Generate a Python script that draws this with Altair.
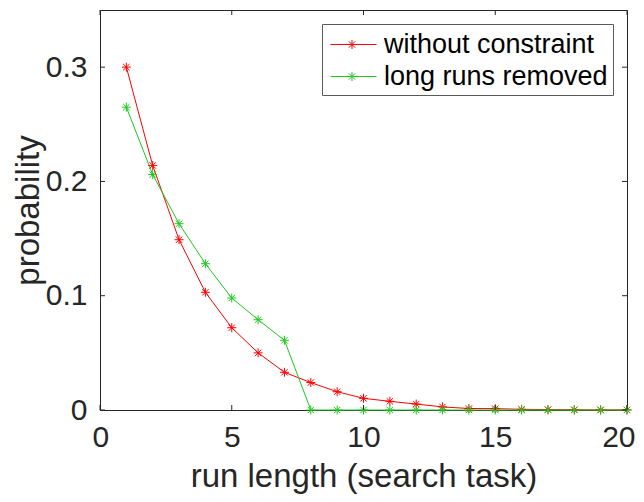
import altair as alt
import pandas as pd

# ---- data ----
run_length = list(range(1, 21))
without_constraint = [0.300, 0.214, 0.149, 0.103, 0.072, 0.050, 0.033, 0.024, 0.016, 0.0102,
                      0.0076, 0.0052, 0.0027, 0.0013, 0.0012, 0.0006, 0.0004, 0.0002, 0.0001, 0.0001]
long_runs_removed = [0.265, 0.206, 0.163, 0.128, 0.098, 0.079, 0.061, 0.0, 0.0, 0.0,
                     0.0, 0.0, 0.0, 0.0, 0.0, 0.0, 0.0, 0.0, 0.0, 0.0]
series_names = ["without constraint", "long runs removed"]
series_colors = ["#ff0000", "#1ec81e"]
x_ticks = [0, 5, 10, 15, 20]
y_ticks = [0, 0.1, 0.2, 0.3]

rows = []
for name, vals in zip(series_names, [without_constraint, long_runs_removed]):
    for x, v in zip(run_length, vals):
        rows.append({"run": x, "prob": v, "series": name})
df = pd.DataFrame(rows)
xt = pd.DataFrame({"t": x_ticks})
yt = pd.DataFrame({"t": y_ticks})

W, H = 527, 400
FONT = "Liberation Sans"
INK = "#262626"

STAR = "M-1,0L1,0M0,-1L0,1M-0.707,-0.707L0.707,0.707M-0.707,0.707L0.707,-0.707"
LEG = ("M-0.8,0L2.267,0M0.633,-0.3L0.633,0.3"
       "M0.421,-0.212L0.845,0.212M0.421,0.212L0.845,-0.212")

xscale = alt.Scale(domain=[0, 20], nice=False, zero=False)
yscale = alt.Scale(domain=[0, 0.35], nice=False)
cscale = alt.Scale(domain=series_names, range=series_colors)

x_axis = alt.Axis(values=x_ticks, format="~g", title="run length (search task)",
                  labelFontSize=30, titleFontSize=33, labelPadding=12, titlePadding=8,
                  labelFlush=True, labelFlushOffset=8, labelOverlap=False)
y_axis = alt.Axis(values=y_ticks, format="~g", title="probability",
                  labelFontSize=30, titleFontSize=33, labelPadding=13, titlePadding=0,
                  labelFlush=False, labelOverlap=False)

base = alt.Chart(df)
line_layers = []
for i, (name, col) in enumerate(zip(series_names, series_colors)):
    if i == 0:
        xe = alt.X("run:Q", scale=xscale, axis=x_axis)
        ye = alt.Y("prob:Q", scale=yscale, axis=y_axis)
    else:
        xe = alt.X("run:Q", scale=xscale)
        ye = alt.Y("prob:Q", scale=yscale)
    line_layers.append(
        base.transform_filter(alt.datum.series == name)
        .mark_line(strokeWidth=1, color=col)
        .encode(x=xe, y=ye, order=alt.Order("run:Q"))
    )

points = base.mark_point(shape=STAR, filled=False, size=81, strokeWidth=1, opacity=1).encode(
    x=alt.X("run:Q", scale=xscale),
    y=alt.Y("prob:Q", scale=yscale),
    color=alt.Color("series:N", scale=cscale, legend=alt.Legend(
        title=None, orient="none", legendX=222, legendY=14,
        symbolType=LEG, symbolSize=900, symbolStrokeWidth=1,
        labelFont=FONT, labelFontSize=27, labelColor="#000000", labelOffset=26,
        labelLimit=600, padding=5, rowPadding=3,
        strokeColor="#5a5a5a", fillColor="white",
    )),
)

tick_style = dict(color=INK, strokeWidth=1)
bottom_ticks = alt.Chart(xt).mark_rule(**tick_style).encode(
    x=alt.X("t:Q", scale=xscale), y=alt.value(H), y2=alt.value(H - 5))
top_ticks = alt.Chart(xt).mark_rule(**tick_style).encode(
    x=alt.X("t:Q", scale=xscale), y=alt.value(0), y2=alt.value(5))
left_ticks = alt.Chart(yt).mark_rule(**tick_style).encode(
    y=alt.Y("t:Q", scale=yscale), x=alt.value(0), x2=alt.value(5))
right_ticks = alt.Chart(yt).mark_rule(**tick_style).encode(
    y=alt.Y("t:Q", scale=yscale), x=alt.value(W), x2=alt.value(W - 5))

chart = alt.layer(*line_layers, points, bottom_ticks, top_ticks, left_ticks, right_ticks).properties(
    width=W, height=H,
    autosize=alt.AutoSizeParams(type="none"),
    padding={"left": 92, "top": 2, "right": 9, "bottom": 84},
    background="white",
).configure_view(
    stroke=INK, strokeWidth=1,
).configure_axis(
    labelFont=FONT, titleFont=FONT, labelColor=INK, titleColor=INK,
    titleFontWeight="normal", domainColor=INK, domainWidth=1,
    ticks=False, tickSize=0, grid=False,
)

chart.save("out.html", embed_options={"renderer": "svg", "actions": False})
